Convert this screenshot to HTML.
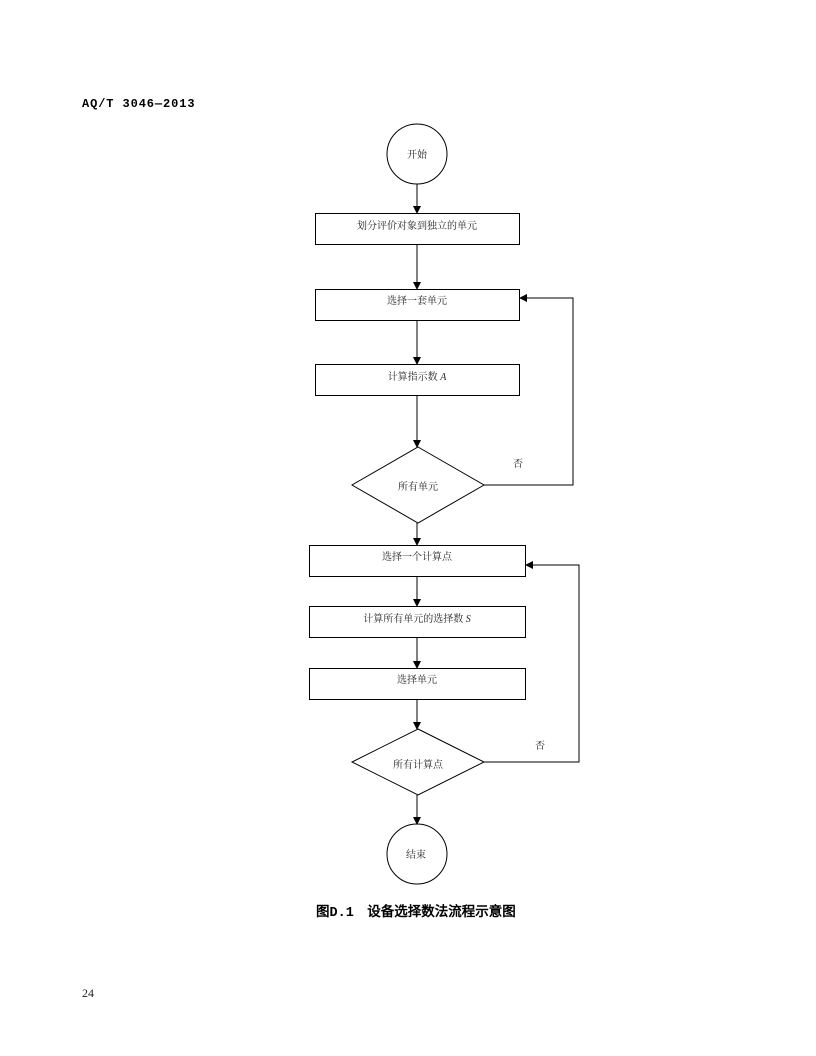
<!DOCTYPE html>
<html><head><meta charset="utf-8"><style>
body{margin:0;background:#fff;width:816px;height:1056px;overflow:hidden}
svg{position:absolute;left:0;top:0}
text{font-family:"Liberation Serif","Noto Serif CJK SC",serif;font-size:10px;fill:#222}
.h{font-family:"Liberation Mono","WenQuanYi Zen Hei",monospace;font-size:12px;fill:#000}
</style></head><body>
<svg width="816" height="1056" viewBox="0 0 816 1056">
<defs><marker id="a" markerWidth="8" markerHeight="8" refX="7" refY="4" orient="auto" markerUnits="userSpaceOnUse"><path d="M0,0 L8,4 L0,8z" fill="#000"/></marker></defs>
<g stroke="#000" stroke-width="1" fill="none">
<circle cx="417" cy="154" r="30"/>
<rect x="315.5" y="213.5" width="204" height="31"/>
<rect x="315.5" y="289.5" width="204" height="31"/>
<rect x="315.5" y="364.5" width="204" height="31"/>
<polygon points="418,447 484,485 418,523 352,485"/>
<rect x="309.5" y="545.5" width="216" height="31"/>
<rect x="309.5" y="606.5" width="216" height="31"/>
<rect x="309.5" y="668.5" width="216" height="31"/>
<polygon points="418,729 484,762 418,795 352,762"/>
<circle cx="417" cy="854" r="30"/>
<line x1="417" y1="184" x2="417" y2="213" marker-end="url(#a)"/>
<line x1="417" y1="245" x2="417" y2="289" marker-end="url(#a)"/>
<line x1="417" y1="321" x2="417" y2="364" marker-end="url(#a)"/>
<line x1="417" y1="396" x2="417" y2="447" marker-end="url(#a)"/>
<line x1="417" y1="523" x2="417" y2="545" marker-end="url(#a)"/>
<line x1="417" y1="577" x2="417" y2="606" marker-end="url(#a)"/>
<line x1="417" y1="638" x2="417" y2="668" marker-end="url(#a)"/>
<line x1="417" y1="700" x2="417" y2="729" marker-end="url(#a)"/>
<line x1="417" y1="795" x2="417" y2="824" marker-end="url(#a)"/>
<polyline points="484,485 573,485 573,298 520,298" marker-end="url(#a)"/>
<polyline points="484,762 579,762 579,565 526,565" marker-end="url(#a)"/>
</g>
<text x="82" y="107" class="h" style="font-weight:bold;letter-spacing:0.9px">AQ/T 3046—2013</text>
<text x="407" y="158">开始</text>
<text x="417" y="229" text-anchor="middle">划分评价对象到独立的单元</text>
<text x="417" y="304" text-anchor="middle">选择一套单元</text>
<text x="417" y="380" text-anchor="middle">计算指示数 <tspan font-style="italic">A</tspan></text>
<text x="513" y="467">否</text>
<text x="418" y="490" text-anchor="middle">所有单元</text>
<text x="417" y="560" text-anchor="middle">选择一个计算点</text>
<text x="417" y="622" text-anchor="middle">计算所有单元的选择数 <tspan font-style="italic">S</tspan></text>
<text x="417" y="683" text-anchor="middle">选择单元</text>
<text x="535" y="749">否</text>
<text x="418" y="768" text-anchor="middle">所有计算点</text>
<text x="406" y="858">结束</text>
<text x="316" y="916" class="h" style="font-size:13.5px;font-weight:bold">图D.1　设备选择数法流程示意图</text>
<text x="82" y="997" style="font-size:12px">24</text>
</svg>
</body></html>
